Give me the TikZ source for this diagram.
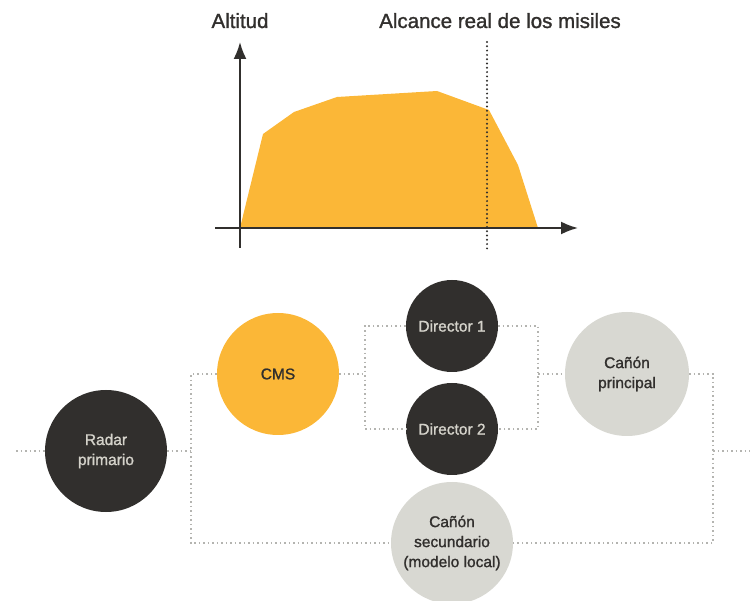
\documentclass[tikz,border=0pt]{standalone}
\usepackage{fontspec}
\setmainfont{Liberation Sans}
\newfontfamily\medio{Liberation Sans}[FakeBold=1.3]
\usepackage{xcolor}
\usetikzlibrary{arrows.meta}
\definecolor{naranja}{HTML}{FBB737}
\definecolor{oscuro}{HTML}{312F2D}
\definecolor{claro}{HTML}{D8D8D2}
\definecolor{textoclaro}{HTML}{D4D2CA}
\definecolor{gris}{HTML}{B4B4B0}
\begin{document}
\begin{tikzpicture}[x=1pt,y=-1pt,
    circulo/.style={circle, inner sep=0pt, minimum size=122pt, align=center,
        font=\medio\fontsize{15.5}{20}\selectfont},
    nodooscuro/.style={circulo, fill=oscuro, text=textoclaro},
    nodoclaro/.style={circulo, fill=claro, text=oscuro},
    titulo/.style={anchor=base, font=\medio\fontsize{20.5}{24}\selectfont, text=oscuro},
    enlace/.style={draw=gris, line width=1.5pt, dash pattern=on 1.5pt off 3pt},
    eje/.style={draw=oscuro, line width=2pt, -{Latex[length=17pt,width=13pt]}}]
    \useasboundingbox (0,0) rectangle (750,601);
    % grafica de altitud
    \fill [naranja] (240,228) -- (263,134) -- (294,112) -- (337,97) -- (437,91)
        -- (489,110) -- (518,165) -- (538,228) -- cycle;
    \draw [eje] (215,228) -- (578,228);
    \draw [eje] (240,248) -- (240,42);
    \draw [oscuro, line width=2.2pt, line cap=round, dash pattern=on 0pt off 4.3pt] (487,42) -- (487,250);
    \node [titulo] (altitud) at (240,28) {Altitud};
    \node [titulo] (alcance) at (500,28) {Alcance real de los misiles};
    % nodos
    \node [nodooscuro] (radar) at (106,451) {Radar\\primario};
    \node [circulo, fill=naranja, text=oscuro] (cms) at (278,374) {CMS};
    \node [nodooscuro, minimum size=92pt] (dir1) at (452,326) {Director 1};
    \node [nodooscuro, minimum size=92pt] (dir2) at (452,429) {Director 2};
    \node [nodoclaro, minimum size=124pt] (principal) at (627,374) {Cañón\\principal};
    \node [nodoclaro] (secundario) at (452,543) {Cañón\\secundario\\(modelo local)};
    % uniones
    \coordinate (entrada) at (16,451);
    \coordinate (salida) at (750,451);
    \coordinate (j1) at (191,451);
    \coordinate (j2) at (365,374);
    \coordinate (j3) at (538,374);
    \coordinate (j4) at (713,451);
    \draw [enlace] (entrada) -- (radar);
    \draw [enlace] (radar) -- (j1);
    \draw [enlace] (cms.west) -| (j1) |- (secundario.west);
    \draw [enlace] (cms.east) -- (j2);
    \draw [enlace] (dir1.west) -| (j2) |- (dir2.west);
    \draw [enlace] (dir1.east) -| (j3) |- (dir2.east);
    \draw [enlace] (j3) -- (principal.west);
    \draw [enlace] (principal.east) -| (j4) |- (secundario.east);
    \draw [enlace] (j4) -- (salida);
\end{tikzpicture}
\end{document}
